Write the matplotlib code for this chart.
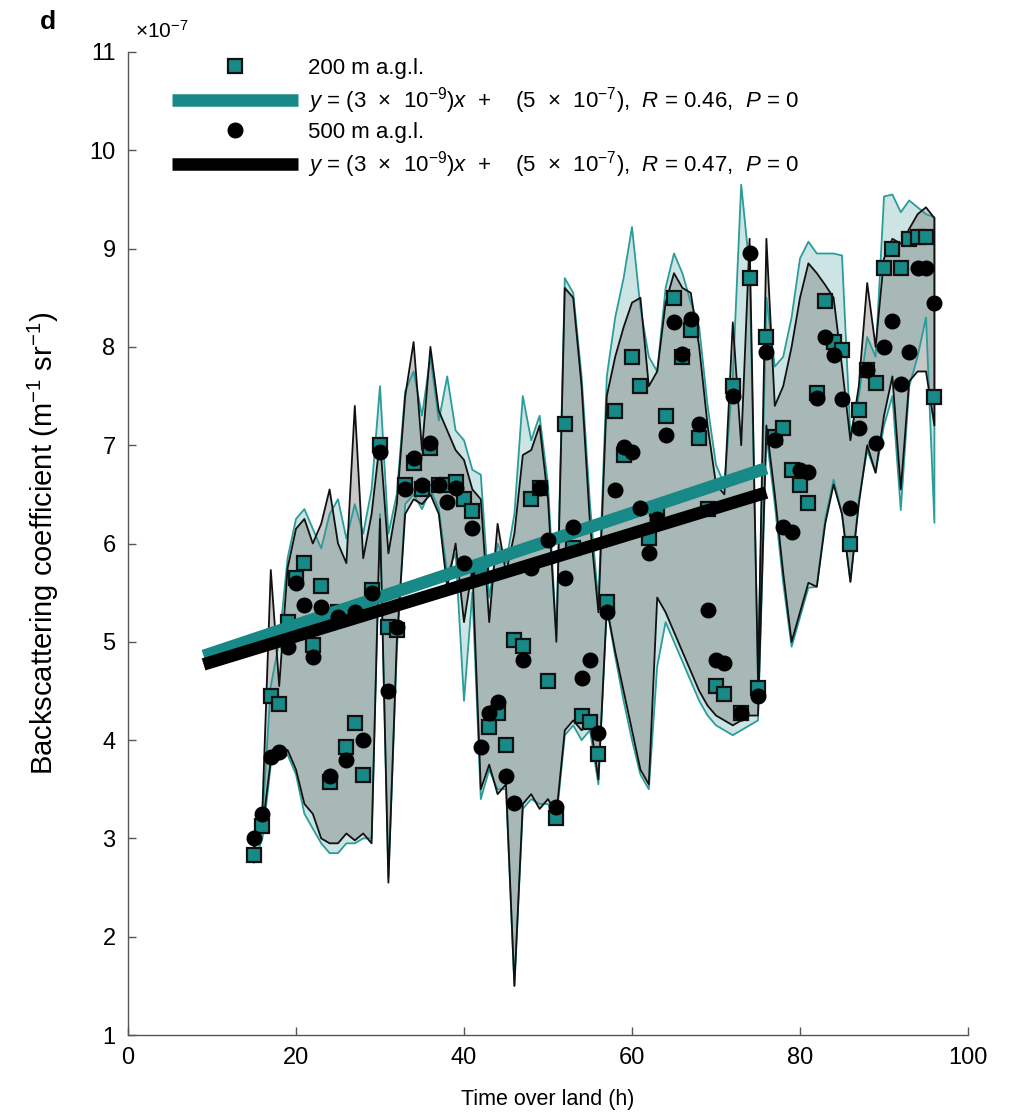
import numpy as np
import matplotlib
matplotlib.use("Agg")
import matplotlib.pyplot as plt
from matplotlib.lines import Line2D

plt.rcParams['font.family'] = ['Liberation Sans', 'DejaVu Sans']
plt.rcParams['mathtext.fontset'] = 'custom'
plt.rcParams['mathtext.rm'] = 'Liberation Sans'
plt.rcParams['mathtext.it'] = 'Liberation Sans:italic'

# ---------------- data (units of 1e-7 m^-1 sr^-1) ----------------
hours = np.arange(15, 97)

b200 = [2.83, 3.13, 4.45, 4.37, 5.20, 5.65, 5.80, 4.97, 5.57, 3.57,
        5.30, 3.93, 4.17, 3.64, 5.53, 7.00, 5.15, 5.12, 6.60, 6.82,
        6.55, 6.97, 6.60, 6.60, 6.63, 6.45, 6.33, 5.70, 4.13, 4.28,
        3.95, 5.02, 4.96, 6.45, 6.56, 4.60, 3.21, 7.22, 5.95, 4.25,
        4.18, 3.86, 5.40, 7.35, 6.90, 7.90, 7.60, 6.06, 6.35, 7.30,
        8.50, 7.90, 8.17, 7.07, 6.35, 4.55, 4.47, 7.60, 4.28, 8.70,
        4.53, 8.10, 7.08, 7.18, 6.75, 6.60, 6.41, 7.53, 8.47, 8.05,
        7.97, 6.00, 7.36, 7.76, 7.63, 8.80, 9.00, 8.80, 9.10, 9.12,
        9.12, 7.49]

b500 = [3.00, 3.25, 3.83, 3.88, 4.95, 5.60, 5.37, 4.85, 5.35, 3.63,
        5.25, 3.80, 5.30, 4.00, 5.50, 6.93, 4.50, 5.15, 6.55, 6.87,
        6.60, 7.02, 6.60, 6.42, 6.56, 5.80, 6.16, 3.93, 4.28, 4.39,
        3.63, 3.36, 4.81, 5.75, 6.56, 6.04, 3.32, 5.65, 6.17, 4.63,
        4.81, 4.07, 5.30, 6.54, 6.98, 6.93, 6.36, 5.90, 6.25, 7.10,
        8.25, 7.93, 8.28, 7.22, 5.32, 4.81, 4.78, 7.50, 4.28, 8.96,
        4.45, 7.95, 7.05, 6.17, 6.12, 6.75, 6.73, 7.48, 8.10, 7.92,
        7.47, 6.36, 7.18, 7.77, 7.02, 8.00, 8.26, 7.62, 7.95, 8.80,
        8.80, 8.45]

lo500 = [2.90, 3.10, 3.80, 3.85, 3.90, 3.70, 3.35, 3.25, 3.00, 2.95,
         2.95, 3.05, 2.98, 3.05, 2.95, 6.25, 2.55, 5.00, 6.30, 6.45,
         6.40, 6.50, 6.30, 5.55, 6.00, 5.20, 5.75, 3.50, 3.75, 3.45,
         3.55, 1.50, 3.35, 3.45, 3.30, 3.40, 3.25, 4.10, 4.20, 4.10,
         4.20, 3.60, 5.35, 4.90, 4.50, 4.10, 3.70, 3.55, 5.45, 5.30,
         5.10, 4.90, 4.70, 4.50, 4.35, 4.25, 4.20, 4.15, 4.20, 4.25,
         4.25, 7.20, 6.50, 5.70, 5.00, 5.30, 5.60, 5.56, 6.20, 6.60,
         6.30, 5.61, 6.40, 7.00, 6.72, 7.30, 7.70, 6.55, 7.65, 7.75,
         7.75, 7.20]

hi500 = [3.05, 3.30, 5.73, 4.55, 5.75, 6.15, 6.25, 6.00, 6.20, 6.55,
         6.00, 5.80, 7.40, 5.85, 6.30, 7.05, 5.90, 6.40, 7.50, 8.05,
         6.95, 8.00, 7.35, 7.15, 6.95, 6.85, 6.55, 6.45, 5.20, 6.20,
         5.70, 6.10, 6.90, 6.95, 7.20, 6.45, 5.00, 8.60, 8.50, 7.60,
         6.20, 5.30, 7.50, 7.90, 8.20, 8.45, 8.50, 7.60, 7.75, 8.45,
         8.75, 8.60, 8.55, 8.00, 7.20, 6.60, 6.50, 8.25, 7.00, 9.10,
         4.60, 9.10, 7.40, 7.60, 8.00, 8.50, 8.85, 8.75, 8.63, 8.50,
         7.80, 7.05, 7.60, 8.65, 8.00, 8.90, 9.10, 9.05, 9.20, 9.35,
         9.42, 9.31]

lo200 = [2.75, 3.00, 3.75, 3.80, 3.85, 3.65, 3.25, 3.10, 2.95, 2.85,
         2.85, 2.95, 2.95, 3.00, 3.00, 6.30, 2.60, 4.90, 6.40, 6.50,
         6.35, 6.55, 6.35, 5.70, 5.90, 4.40, 5.50, 3.40, 3.70, 3.50,
         3.50, 1.50, 3.30, 3.40, 3.35, 3.35, 3.20, 4.05, 4.15, 4.00,
         4.10, 3.55, 5.35, 4.85, 4.40, 4.00, 3.65, 3.50, 4.75, 5.20,
         5.00, 4.80, 4.60, 4.40, 4.25, 4.15, 4.10, 4.05, 4.10, 4.15,
         4.20, 7.10, 6.40, 5.60, 4.95, 5.25, 5.55, 5.56, 6.25, 6.65,
         6.30, 5.61, 6.45, 6.95, 6.72, 7.20, 7.50, 6.34, 7.60, 7.90,
         8.30, 6.21]

hi200 = [3.00, 3.20, 4.55, 5.00, 5.85, 6.25, 6.35, 6.15, 5.95, 6.30,
         6.45, 6.05, 6.40, 6.10, 6.55, 7.60, 6.10, 6.50, 7.55, 7.75,
         7.30, 7.90, 7.25, 7.70, 7.15, 7.05, 6.75, 6.70, 5.45, 6.00,
         5.80, 6.30, 7.50, 7.05, 7.30, 6.60, 5.05, 8.70, 8.55, 7.70,
         6.40, 5.40, 7.70, 8.30, 8.70, 9.22, 8.40, 7.90, 7.75, 8.60,
         8.95, 8.75, 8.45, 8.20, 7.40, 6.80, 6.60, 7.70, 9.65, 8.80,
         4.70, 8.50, 7.80, 7.90, 8.30, 8.90, 9.07, 8.95, 8.95, 8.95,
         8.93, 7.10, 7.50, 8.10, 7.90, 9.53, 9.55, 9.37, 9.49, 9.42,
         9.35, 9.32]

# linear fits (intercept, slope per hour), fitted range
fit200 = (4.60, 0.0285)
fit500 = (4.535, 0.0261)
fit_x = [9, 76]

labels = ["200 m a.g.l.",
          r"$y$ = (3  ×  10$^{-9}$)$x$  +    (5  ×  10$^{-7}$),  $R$ = 0.46,  $P$ = 0",
          "500 m a.g.l.",
          r"$y$ = (3  ×  10$^{-9}$)$x$  +    (5  ×  10$^{-7}$),  $R$ = 0.47,  $P$ = 0"]

# ---------------- styling ----------------
TEAL = '#178a88'
TEAL_EDGE = '#2b9c99'

fig = plt.figure(figsize=(10.13, 11.2), dpi=100)
ax = fig.add_axes([128/1013, 1 - 1035/1120, 840/1013, 983/1120])

# bands
ax.fill_between(hours, lo200, hi200, facecolor=TEAL, alpha=0.22, lw=0, zorder=1)
ax.fill_between(hours, lo500, hi500, facecolor='#6f6f6f', alpha=0.38, lw=0, zorder=1.1)
for lo, hi, c in [(lo200, hi200, TEAL_EDGE), (lo500, hi500, '#111111')]:
    xs = np.concatenate([hours, hours[::-1], hours[:1]])
    ys = np.concatenate([np.array(hi), np.array(lo)[::-1], np.array(hi)[:1]])
    ax.plot(xs, ys, color=c, lw=1.3, zorder=2)

fx = np.array(fit_x, dtype=float)
ax.plot(hours, b200, ls='none', marker='s', ms=9.5, mfc=TEAL, mec='#111111',
        mew=1.6, zorder=3)
ax.plot(fx, fit200[0] + fit200[1] * fx, color=TEAL, lw=9, solid_capstyle='butt', zorder=4)
ax.plot(hours, b500, ls='none', marker='o', ms=10.5, mfc='black', mec='black',
        zorder=5)
ax.plot(fx, fit500[0] + fit500[1] * fx, color='black', lw=9, solid_capstyle='butt', zorder=6)

handles = [Line2D([], [], ls='none', marker='s', ms=9.5, mfc=TEAL, mec='#111111', mew=1.6),
           Line2D([], [], color=TEAL, lw=9, solid_capstyle='butt'),
           Line2D([], [], ls='none', marker='o', ms=10.5, mfc='black', mec='black'),
           Line2D([], [], color='black', lw=9, solid_capstyle='butt')]
leg = ax.legend(handles, labels, loc='upper left', bbox_to_anchor=(0.052, 0.994),
                frameon=False, fontsize=16, handlelength=5.7, handletextpad=0.42,
                labelspacing=0.28, borderpad=0, borderaxespad=0, numpoints=1)

ax.set_xlim(0, 100)
ax.set_ylim(1, 11)
ax.set_xticks([0, 20, 40, 60, 80, 100])
ax.set_yticks(range(1, 12))
for s in ['top', 'right']:
    ax.spines[s].set_visible(False)
for s in ['left', 'bottom']:
    ax.spines[s].set_color('#555555')
    ax.spines[s].set_linewidth(1.0)
ax.tick_params(direction='in', length=6, width=1, color='#555555',
               labelsize=17, pad=9)
ax.set_xlabel('Time over land (h)', fontsize=15.5, labelpad=14)
ax.set_ylabel('Backscattering coefficient (m$^{-1}$ sr$^{-1}$)', fontsize=21, labelpad=20)

ax.text(0.008, 1.01, '×10$^{-7}$', transform=ax.transAxes, fontsize=15,
        ha='left', va='bottom')
fig.text(48/1013, 1 - 22/1120, 'd', fontsize=19, fontweight='bold', ha='center', va='center')

fig.savefig('out.png', dpi=100)
